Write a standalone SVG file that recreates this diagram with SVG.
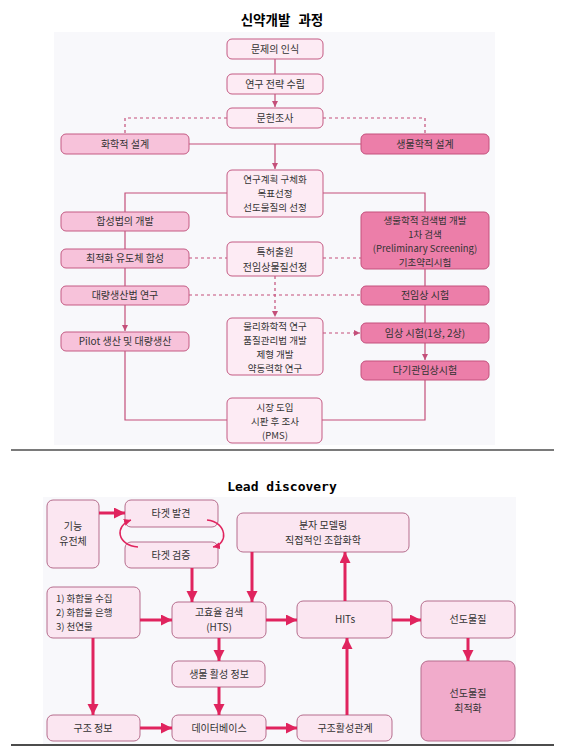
<svg xmlns="http://www.w3.org/2000/svg" width="561" height="753" viewBox="0 0 561 753">
<style>
text{font-family:"Noto Sans CJK KR","Noto Sans",sans-serif;font-size:10px;fill:#333;text-anchor:middle}
.m{font-size:9.5px}
.t{font-size:13.5px;font-weight:bold;fill:#000}
.ld{font-family:"DejaVu Sans Mono",monospace;font-size:13px;font-weight:bold;fill:#000}
.n0{fill:#fdebf4;stroke:#c45a83;stroke-width:1}
.n1{fill:#f7c2da;stroke:#c45a83;stroke-width:1}
.n2{fill:#ec7ea9;stroke:#c4507d;stroke-width:1}
.b0{fill:#fbe6f1;stroke:#b66d8d;stroke-width:1}
.b1{fill:#f1abcb;stroke:#b66d8d;stroke-width:1}
.c{fill:none;stroke:#c44f7a;stroke-width:1.2}
.d{fill:none;stroke:#c44f7a;stroke-width:1.2;stroke-dasharray:3 3}
.a{fill:none;stroke:#e0245e;stroke-width:3}
.ac{fill:none;stroke:#e0245e;stroke-width:1.5}
</style>
<defs>
<marker id="m1" markerUnits="userSpaceOnUse" markerWidth="8" markerHeight="8" refX="6" refY="3" orient="auto"><path d="M0,0 L6,3 L0,6 z" fill="#c44f7a"/></marker>
<marker id="m2" markerUnits="userSpaceOnUse" markerWidth="12" markerHeight="12" refX="11" refY="5.5" orient="auto"><path d="M0,0 L11,5.5 L0,11 z" fill="#e0245e"/></marker>
<marker id="m3" markerUnits="userSpaceOnUse" markerWidth="8" markerHeight="8" refX="7" refY="3.5" orient="auto"><path d="M0,0 L7,3.5 L0,7 z" fill="#e0245e"/></marker>
</defs>
<rect width="561" height="753" fill="#fff"/>
<text class="t" x="282" y="25" word-spacing="5">신약개발 과정</text>
<rect x="54" y="32" width="441" height="413" fill="#f8f8fb"/>
<line x1="11" y1="450" x2="554" y2="450" stroke="#7a7a7a" stroke-width="2"/>
<text class="ld" x="282" y="491">Lead discovery</text>
<rect x="43" y="497" width="473" height="247" fill="#f8f8fb"/>
<line x1="11" y1="745" x2="554" y2="745" stroke="#111" stroke-width="1.5"/>

<g id="connectors-top">
<path class="c" d="M275,59 V74"/>
<path class="c" d="M275,94 V107" marker-end="url(#m1)"/>
<path class="d" d="M227,118 H125 V134"/>
<path class="d" d="M323,118 H425 V134"/>
<path class="c" d="M189,144 H361"/>
<path class="c" d="M275,144 V169" marker-end="url(#m1)"/>
<path class="c" d="M227,193 H125 V212"/>
<path class="c" d="M323,193 H425 V212"/>
<path class="c" d="M125,231 V249 M125,268 V286"/>
<path class="c" d="M125,305 V331" marker-end="url(#m1)"/>
<path class="c" d="M125,351 V420 H227"/>
<path class="c" d="M425,269 V286 M425,305 V323"/>
<path class="c" d="M425,343 V360" marker-end="url(#m1)"/>
<path class="c" d="M425,380 V420 H322"/>
<path class="d" d="M189,258 H227 M323,258 H361"/>
<path class="d" d="M275,276 V317" marker-end="url(#m1)"/>
<path class="d" d="M189,295 H361"/>
<path class="d" d="M323,333 H360" marker-end="url(#m1)"/>
</g>

<g id="n-problem"><rect class="n0" x="227" y="39" width="96" height="20" rx="5"/><text x="275" y="53">문제의 인식</text></g>
<g id="n-strategy"><rect class="n0" x="227" y="74" width="96" height="20" rx="5"/><text x="275" y="88">연구 전략 수립</text></g>
<g id="n-literature"><rect class="n0" x="227" y="108" width="96" height="20" rx="5"/><text x="275" y="122">문헌조사</text></g>
<g id="n-chemdesign"><rect class="n1" x="61" y="134" width="128" height="20" rx="5"/><text x="125" y="148">화학적 설계</text></g>
<g id="n-biodesign"><rect class="n2" x="361" y="134" width="128" height="20" rx="5"/><text x="425" y="148">생물학적 설계</text></g>
<g id="n-plan"><rect class="n0" x="227" y="170" width="96" height="47" rx="5"/><text class="m" x="275" y="183">연구계획 구체화<tspan x="275" dy="14">목표선정</tspan><tspan x="275" dy="14">선도물질의 선정</tspan></text></g>
<g id="n-synth"><rect class="n1" x="61" y="212" width="128" height="19" rx="5"/><text x="125" y="225">합성법의 개발</text></g>
<g id="n-bioscreen"><rect class="n2" x="361" y="212" width="128" height="57" rx="5"/><text class="m" x="425" y="224">생물학적 검색법 개발<tspan x="425" dy="14">1차 검색</tspan><tspan x="425" dy="14">(Preliminary Screening)</tspan><tspan x="425" dy="14">기초약리시험</tspan></text></g>
<g id="n-optim"><rect class="n1" x="61" y="249" width="128" height="19" rx="5"/><text x="125" y="262">최적화 유도체 합성</text></g>
<g id="n-patent"><rect class="n0" x="227" y="242" width="96" height="34" rx="5"/><text x="275" y="256">특허출원<tspan x="275" dy="15">전임상물질선정</tspan></text></g>
<g id="n-massmethod"><rect class="n1" x="61" y="286" width="128" height="19" rx="5"/><text x="125" y="299">대량생산법 연구</text></g>
<g id="n-preclinical"><rect class="n2" x="361" y="286" width="128" height="19" rx="5"/><text x="425" y="299">전임상 시험</text></g>
<g id="n-pilot"><rect class="n1" x="61" y="332" width="128" height="19" rx="5"/><text x="125" y="345">Pilot 생산 및 대량생산</text></g>
<g id="n-physchem"><rect class="n0" x="227" y="318" width="96" height="57" rx="5"/><text class="m" x="275" y="330">물리화학적 연구<tspan x="275" dy="14">품질관리법 개발</tspan><tspan x="275" dy="14">제형 개발</tspan><tspan x="275" dy="14">약동력학 연구</tspan></text></g>
<g id="n-clinical"><rect class="n2" x="361" y="323" width="128" height="20" rx="5"/><text x="425" y="337">임상 시험(1상, 2상)</text></g>
<g id="n-multicenter"><rect class="n2" x="361" y="361" width="128" height="19" rx="5"/><text x="425" y="374">다기관임상시험</text></g>
<g id="n-market"><rect class="n0" x="227" y="398" width="95" height="45" rx="5"/><text class="m" x="275" y="411">시장 도입<tspan x="275" dy="14">시판 후 조사</tspan><tspan x="275" dy="14">(PMS)</tspan></text></g>

<g id="b-genomics"><rect class="b0" x="47" y="500" width="52" height="68" rx="6"/><text x="73" y="530">기능<tspan x="73" dy="15">유전체</tspan></text></g>
<g id="b-target-find"><rect class="b0" x="125" y="500" width="93" height="27" rx="6"/><text x="171" y="517">타겟 발견</text></g>
<g id="b-target-valid"><rect class="b0" x="125" y="542" width="93" height="26" rx="6"/><text x="171" y="559">타겟 검증</text></g>
<g id="b-modeling"><rect class="b0" x="237" y="513" width="172" height="39" rx="6"/><text x="323" y="529">분자 모델링<tspan x="323" dy="15">직접적인 조합화학</tspan></text></g>
<g id="b-compounds"><rect class="b0" x="47" y="587" width="93" height="51" rx="6"/><text class="m" x="56" y="602" style="text-anchor:start">1) 화합물 수집<tspan x="56" dy="14">2) 화합물 은행</tspan><tspan x="56" dy="14">3) 천연물</tspan></text></g>
<g id="b-hts"><rect class="b0" x="172" y="602" width="94" height="36" rx="6"/><text x="219" y="616">고효율 검색<tspan x="219" dy="15">(HTS)</tspan></text></g>
<g id="b-bioactivity"><rect class="b0" x="172" y="661" width="93" height="26" rx="6"/><text x="219" y="678">생물 활성 정보</text></g>
<g id="b-structure"><rect class="b0" x="47" y="715" width="93" height="26" rx="6"/><text x="93" y="732">구조 정보</text></g>
<g id="b-database"><rect class="b0" x="172" y="715" width="94" height="26" rx="6"/><text x="219" y="732">데이터베이스</text></g>
<g id="b-hits"><rect class="b0" x="297" y="601" width="95" height="37" rx="6"/><text x="345" y="623">HITs</text></g>
<g id="b-sar"><rect class="b0" x="297" y="715" width="95" height="26" rx="6"/><text x="345" y="732">구조활성관계</text></g>
<g id="b-lead"><rect class="b0" x="421" y="601" width="94" height="37" rx="6"/><text x="468" y="623">선도물질</text></g>
<g id="b-leadopt"><rect class="b1" x="421" y="661" width="94" height="80" rx="7"/><text x="468" y="697">선도물질<tspan x="468" dy="15">최적화</tspan></text></g>

<g id="connectors-bottom">
<path class="a" d="M99,513 H125" marker-end="url(#m2)"/>
<path class="ac" d="M138,547 C117,545 114,526 131,520" marker-end="url(#m3)"/>
<path class="ac" d="M207,520 C227,522 229,544 213,547" marker-end="url(#m3)"/>
<path class="a" d="M192,568 V602" marker-end="url(#m2)"/>
<path class="a" d="M252,552 V602" marker-end="url(#m2)"/>
<path class="a" d="M140,620 H172" marker-end="url(#m2)"/>
<path class="a" d="M266,620 H297" marker-end="url(#m2)"/>
<path class="a" d="M345,601 V552" marker-end="url(#m2)"/>
<path class="a" d="M392,620 H421" marker-end="url(#m2)"/>
<path class="a" d="M468,638 V661" marker-end="url(#m2)"/>
<path class="a" d="M219,638 V661" marker-end="url(#m2)"/>
<path class="a" d="M219,687 V715" marker-end="url(#m2)"/>
<path class="a" d="M93,638 V715" marker-end="url(#m2)"/>
<path class="a" d="M140,728 H172" marker-end="url(#m2)"/>
<path class="a" d="M266,728 H297" marker-end="url(#m2)"/>
<path class="a" d="M347,715 V638" marker-end="url(#m2)"/>
</g>
</svg>
